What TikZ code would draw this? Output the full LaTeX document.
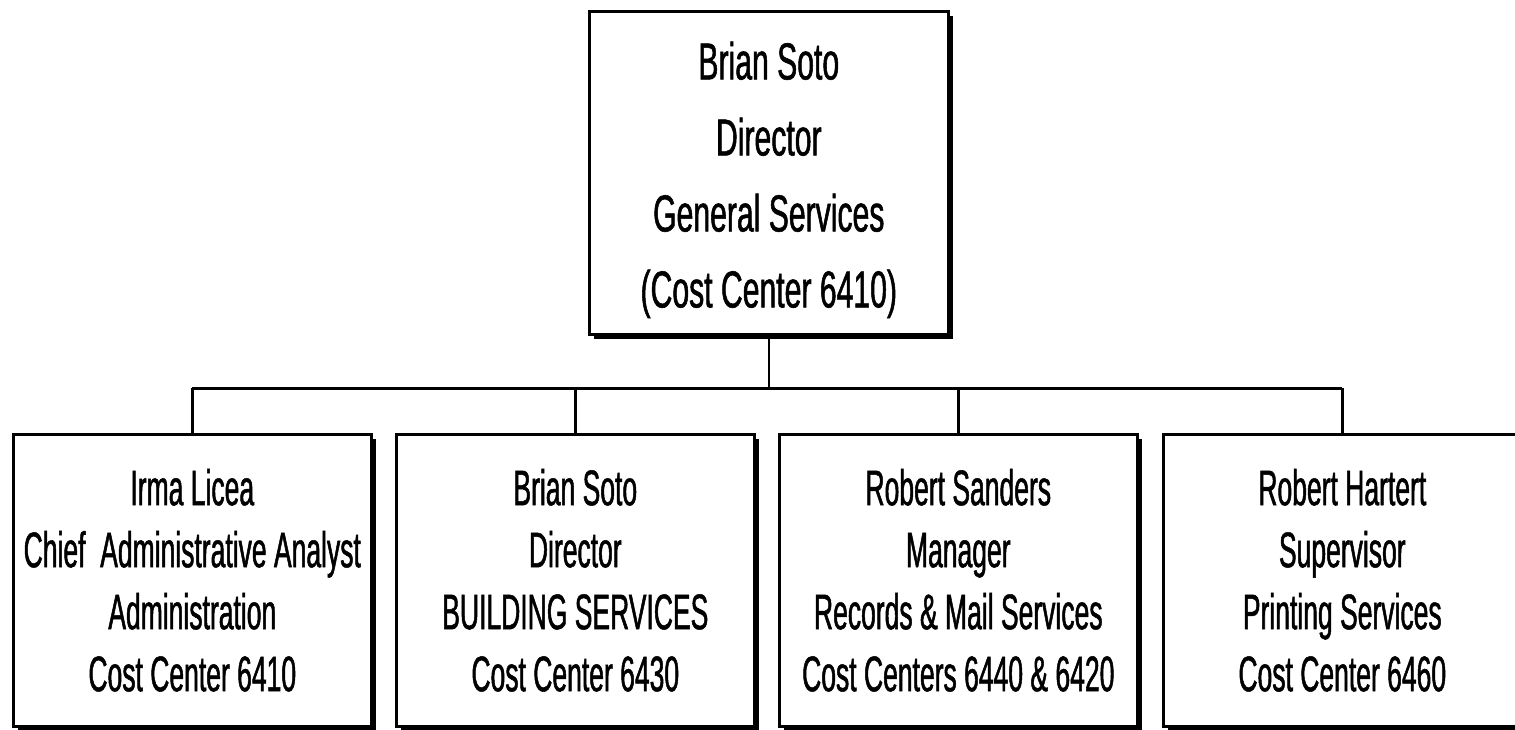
\documentclass[tikz,border=0pt]{standalone}
\usepackage{fontspec}
\setmainfont{Liberation Sans}
\newfontfamily\topfont{Liberation Sans}[FakeStretch=0.58,FakeBold=1.0]
\newfontfamily\subfont{Liberation Sans}[FakeStretch=0.53,FakeBold=1.0]
\usetikzlibrary{shadows}
\begin{document}
\begin{tikzpicture}[x=1pt,y=-1pt,
  orgbox/.style={draw=black, line width=2.6pt, fill=white, align=center,
    inner sep=0pt, anchor=north west,
    general shadow={fill=black, shadow xshift=4.5pt, shadow yshift=-4.5pt}},
  topbox/.style={orgbox, minimum width=359pt, minimum height=323pt,
    font=\topfont\fontsize{52}{76}\selectfont},
  subbox/.style={orgbox, minimum width=358pt, minimum height=292pt,
    font=\subfont\fontsize{50}{62}\selectfont},
  link/.style={line width=2.4pt}]
\useasboundingbox (0,0) rectangle (1515,730);
\clip (0,0) rectangle (1515,730);
\node[topbox] (top) at (588,10) {\rule{0pt}{52pt}Brian Soto\\Director\\General Services\\(Cost Center 6410)};
\node[subbox] (b1) at (12,433) {Irma Licea\\Chief\ \ Administrative Analyst\\Administration\\Cost Center 6410};
\node[subbox] (b2) at (395,433) {Brian Soto\\Director\\BUILDING SERVICES\\Cost Center 6430};
\node[subbox] (b3) at (778,433) {Robert Sanders\\Manager\\Records \& Mail Services\\Cost Centers 6440 \& 6420};
\node[subbox] (b4) at (1162,433) {Robert Hartert\\Supervisor\\Printing Services\\Cost Center 6460};
\coordinate (bus) at (768,388);
\draw[link] (top.south) -- (top.south |- bus);
\draw[link, line width=3pt] (b1.north |- bus) -- (b4.north |- bus);
\foreach \b in {b1,b2,b3,b4} \draw[link] (\b.north |- bus) -- (\b.north);
\end{tikzpicture}
\end{document}
